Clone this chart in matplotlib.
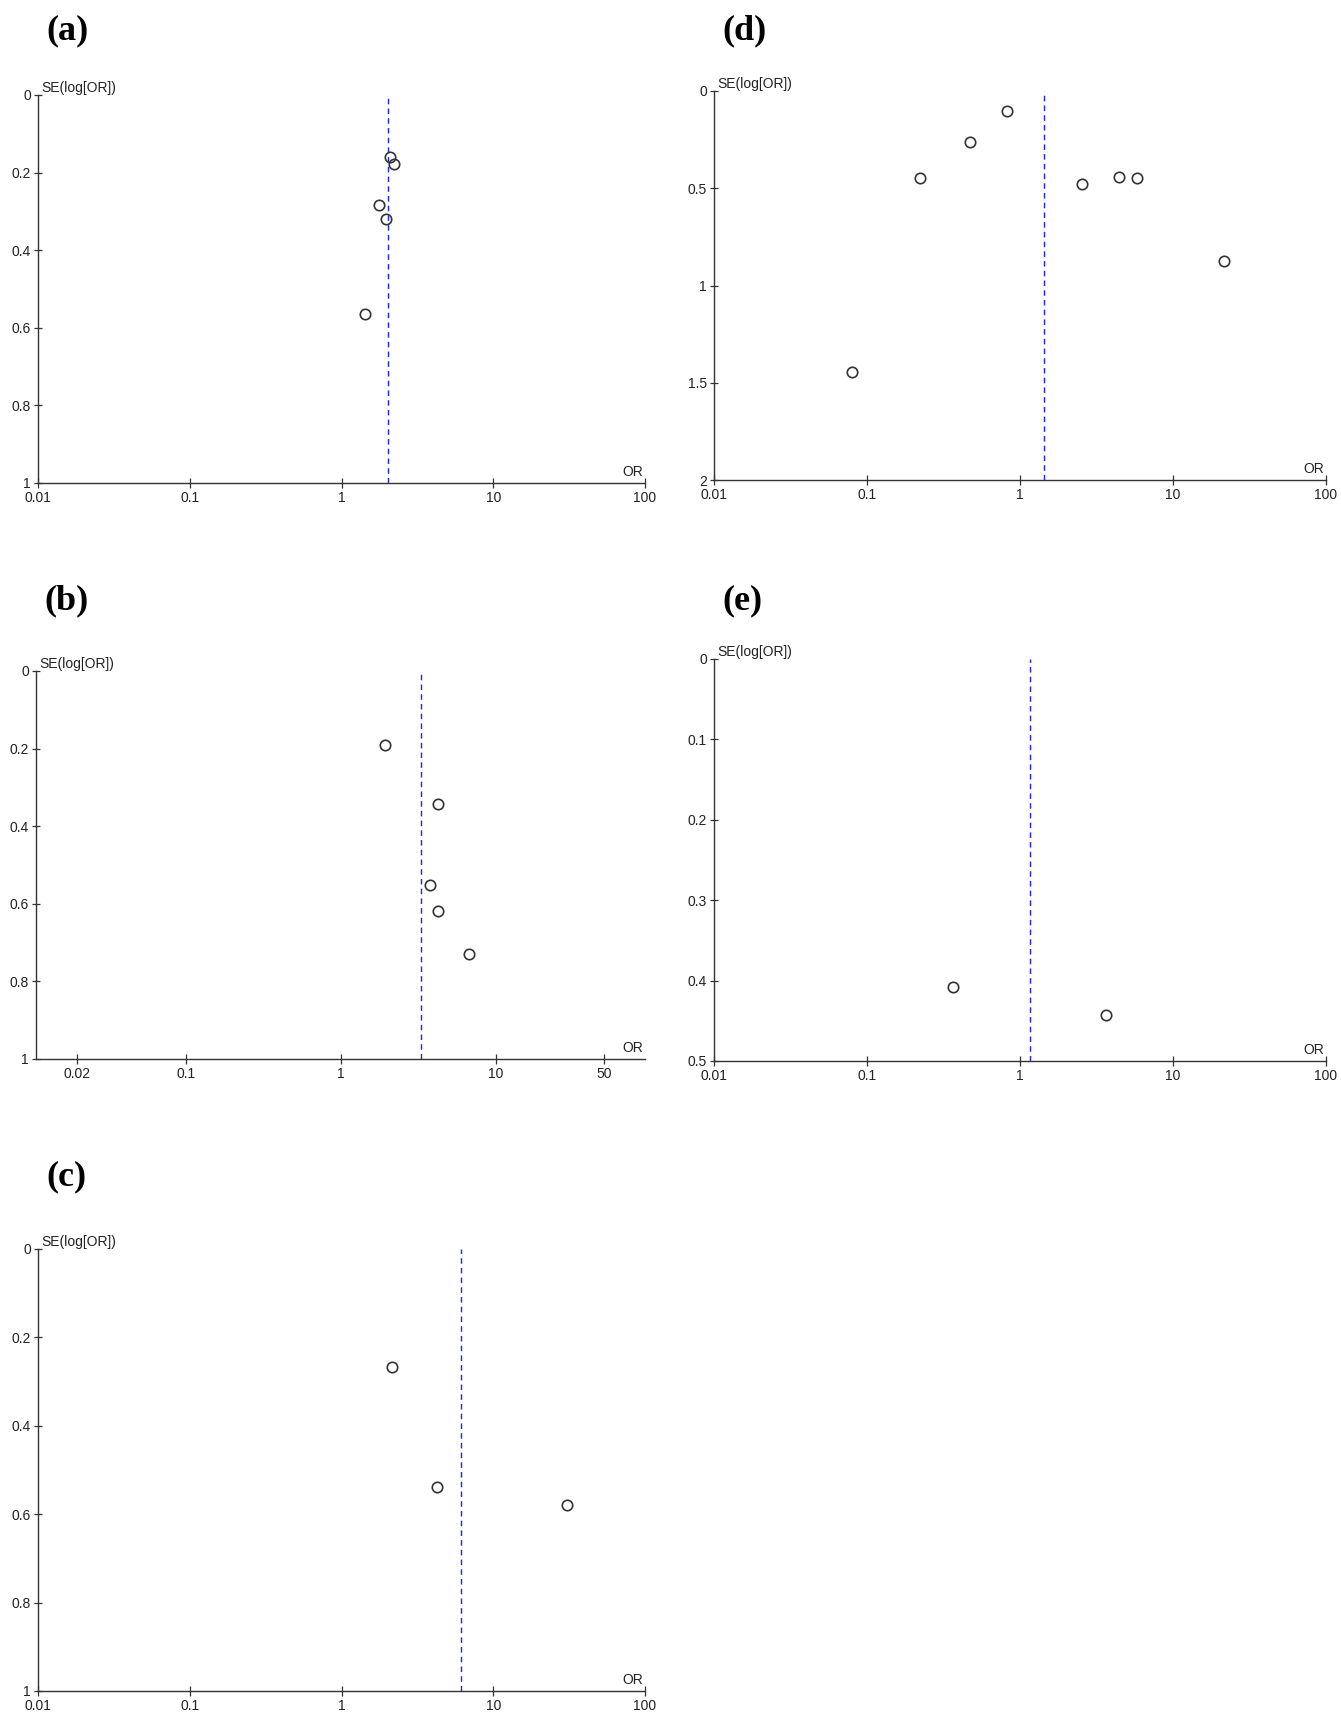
import numpy as np
import matplotlib
matplotlib.use("Agg")
import matplotlib.pyplot as plt
from matplotlib.ticker import FixedLocator, FixedFormatter, NullLocator

# funnel plot data (OR, SE(log[OR])) per panel
a_or = [2.10, 2.23, 1.76, 1.97, 1.42]
a_se = [0.159, 0.177, 0.284, 0.319, 0.565]
a_pooled = 2.04

b_or = [1.93, 4.23, 3.78, 4.23, 6.71]
b_se = [0.192, 0.343, 0.551, 0.619, 0.730]
b_pooled = 3.28

c_or = [2.15, 4.23, 30.4]
c_se = [0.266, 0.539, 0.579]
c_pooled = 6.16

d_or = [0.819, 0.471, 0.223, 2.56, 4.45, 5.86, 21.4, 0.0793]
d_se = [0.104, 0.260, 0.446, 0.480, 0.441, 0.446, 0.872, 1.446]
d_pooled = 1.44

e_or = [0.367, 3.64]
e_se = [0.408, 0.443]
e_pooled = 1.17

xticks_std = [0.01, 0.1, 1, 10, 100]
xlabels_std = ["0.01", "0.1", "1", "10", "100"]
xticks_b = [0.02, 0.1, 1, 10, 50]
xlabels_b = ["0.02", "0.1", "1", "10", "50"]

yticks_1 = [0, 0.2, 0.4, 0.6, 0.8, 1]
ylabels_1 = ["0", "0.2", "0.4", "0.6", "0.8", "1"]
yticks_d = [0, 0.5, 1, 1.5, 2]
ylabels_d = ["0", "0.5", "1", "1.5", "2"]
yticks_e = [0, 0.1, 0.2, 0.3, 0.4, 0.5]
ylabels_e = ["0", "0.1", "0.2", "0.3", "0.4", "0.5"]

W, H = 1341, 1714
fig = plt.figure(figsize=(W / 100, H / 100), dpi=100)
fig.patch.set_facecolor("white")

axis_col = "#333333"
sans = ["Liberation Sans", "DejaVu Sans"]


def funnel(l, r, t, b, ors, ses, pooled, xlim, xt, xl, yt, yl, letter, letter_y):
    ax = fig.add_axes([l / W, 1 - b / H, (r - l) / W, (b - t) / H])
    ax.set_xscale("log")
    ax.set_xlim(*xlim)
    ax.set_ylim(yt[-1], 0)
    ax.axvline(pooled, color="#2424e6", lw=1.0, linestyle=(0, (4, 3)))
    ax.plot(ors, ses, "o", mfc="none", mec="#333333", mew=1.2, ms=7.5,
            linestyle="none", clip_on=False)
    for s in ["top", "right"]:
        ax.spines[s].set_visible(False)
    for s in ["left", "bottom"]:
        ax.spines[s].set_color(axis_col)
        ax.spines[s].set_linewidth(1.0)
    ax.xaxis.set_major_locator(FixedLocator(xt))
    ax.xaxis.set_major_formatter(FixedFormatter(xl))
    ax.xaxis.set_minor_locator(NullLocator())
    ax.set_yticks(yt)
    ax.set_yticklabels(yl)
    ax.tick_params(axis="x", direction="inout", length=7, width=0.9,
                   color=axis_col, pad=2, labelsize=10, labelcolor="#222222")
    ax.tick_params(axis="y", direction="inout", length=6, width=0.9,
                   color=axis_col, pad=2, labelsize=10, labelcolor="#222222")
    for lab in ax.get_xticklabels() + ax.get_yticklabels():
        lab.set_fontfamily(sans)
    ax.annotate("SE(log[OR])", xy=(0, 1), xycoords="axes fraction",
                xytext=(2.5, 2), textcoords="offset points",
                ha="left", va="baseline", color="#222222", family=sans, size=10)
    ax.annotate("OR", xy=(1, 0), xycoords="axes fraction",
                xytext=(-1, 5), textcoords="offset points",
                ha="right", va="baseline", color="#222222", family=sans, size=10)
    fig.text((l + 8) / W, 1 - letter_y / H, letter, ha="left", va="center",
             fontsize=26, fontweight="bold",
             family=["Liberation Serif", "DejaVu Serif"])
    return ax


funnel(38, 645, 95, 483, a_or, a_se, a_pooled, (0.01, 100),
       xticks_std, xlabels_std, yticks_1, ylabels_1, "(a)", 31)
funnel(36, 645, 671, 1059, b_or, b_se, b_pooled, (0.0108, 92),
       xticks_b, xlabels_b, yticks_1, ylabels_1, "(b)", 601)
funnel(38, 645, 1249, 1691, c_or, c_se, c_pooled, (0.01, 100),
       xticks_std, xlabels_std, yticks_1, ylabels_1, "(c)", 1177)
funnel(714, 1326, 91, 480, d_or, d_se, d_pooled, (0.01, 100),
       xticks_std, xlabels_std, yticks_d, ylabels_d, "(d)", 31)
funnel(714, 1326, 659, 1061, e_or, e_se, e_pooled, (0.01, 100),
       xticks_std, xlabels_std, yticks_e, ylabels_e, "(e)", 601)

fig.savefig("out.png", dpi=100, facecolor="white")
